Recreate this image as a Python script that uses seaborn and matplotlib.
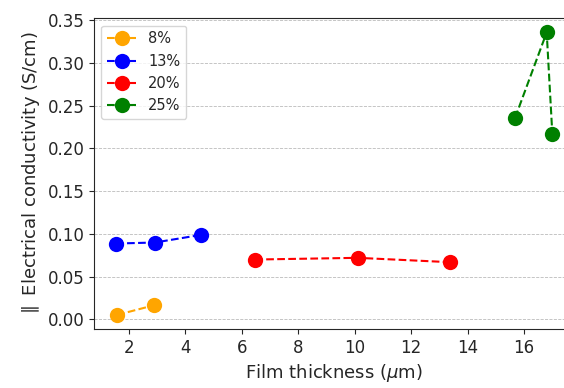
import seaborn as sns
import matplotlib.pyplot as plt
import pandas as pd

# values
labels = ["8%", "13%", "20%", "25%"]
colors = ["orange", "blue", "red", "green"]

thick_8 = [1.58, 2.88]
cond_8 = [0.0053, 0.0165]

thick_13 = [1.54, 2.92, 4.55]
cond_13 = [0.0887, 0.0899, 0.0988]

thick_20 = [6.47, 10.10, 13.38]
cond_20 = [0.070, 0.072, 0.0669]

thick_25 = [15.68, 16.80, 17.00]
cond_25 = [0.2356, 0.3355, 0.2168]

thicknesses = [thick_8, thick_13, thick_20, thick_25]
conductivities = [cond_8, cond_13, cond_20, cond_25]

sns.set_style("ticks")

fig = plt.figure(figsize=(5.64, 3.88), dpi=100)
ax = fig.add_axes([0.167, 0.152, 0.851, 0.801])

for lab, col, xs, ys in zip(labels, colors, thicknesses, conductivities):
    df = pd.DataFrame({"thickness": xs, "conductivity": ys})
    sns.lineplot(data=df, x="thickness", y="conductivity", ax=ax,
                 color=col, label=lab, marker="o", markersize=11,
                 markeredgewidth=0, linestyle="--", linewidth=1.5)

# all four spines, like the original
for side in ["top", "right", "left", "bottom"]:
    ax.spines[side].set_visible(True)

ax.yaxis.grid(True, linestyle="--", color="#bbbbbb", linewidth=0.6)
ax.set_axisbelow(True)
ax.set_xticks([2, 4, 6, 8, 10, 12, 14, 16])
ax.set_xlabel(r"Film thickness ($\mu$m)", fontsize=13)
ax.set_ylabel(r"$\parallel$ Electrical conductivity (S/cm)", fontsize=13)
ax.tick_params(labelsize=12)
ax.legend(loc="upper left", fontsize=10.5)

fig.savefig("out.png", dpi=100)
